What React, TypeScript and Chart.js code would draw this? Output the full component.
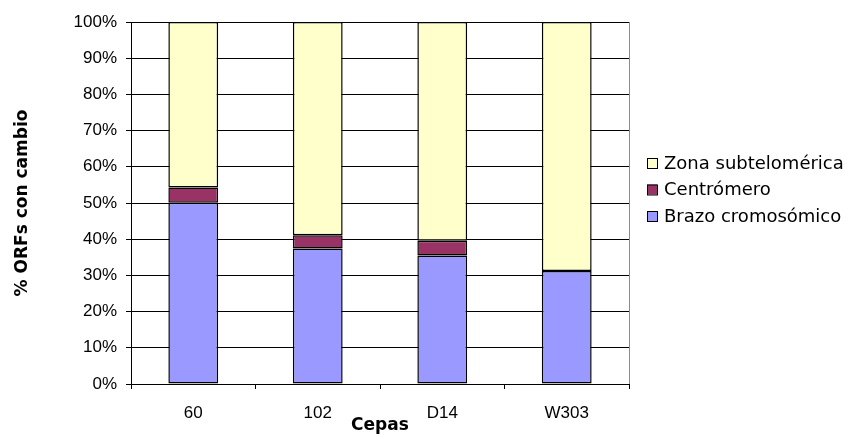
import { useEffect, useRef } from "react";
import { Chart, registerables } from "chart.js";

Chart.register(...registerables);

// Strains on the x axis
const cepas = ["60", "102", "D14", "W303"];

// Share of changed ORFs per genomic region (%)
const brazoCromosomico = [50.1, 37.4, 35.5, 31.2];
const centromero = [4.2, 3.7, 4.1, 0];
const zonaSubtelomerica = [45.7, 58.9, 60.4, 68.8];

const seriesNames = ["Brazo cromosómico", "Centrómero", "Zona subtelomérica"];
const seriesColors = ["#9999FF", "#993366", "#FFFFCC"];

const yTicks = [0, 10, 20, 30, 40, 50, 60, 70, 80, 90, 100];

// Legend drawn to the right of the plot, top entry first
const sideLegend = {
  id: "sideLegend",
  afterDraw(chart: any) {
    const ctx = chart.ctx;
    const datasets = chart.data.datasets;
    const x0 = 647;
    const rows = [163, 189.5, 216];
    ctx.save();
    ctx.font = "18px 'DejaVu Sans'";
    ctx.textBaseline = "middle";
    ctx.textAlign = "left";
    for (let i = 0; i < datasets.length; i++) {
      const ds = datasets[datasets.length - 1 - i];
      const cy = rows[i];
      ctx.fillStyle = ds.backgroundColor;
      ctx.fillRect(x0, cy - 5, 10, 10);
      ctx.strokeStyle = "#000";
      ctx.lineWidth = 1;
      ctx.strokeRect(x0 + 0.5, cy - 4.5, 10, 10);
      ctx.fillStyle = "#000";
      ctx.fillText(ds.label, x0 + 17, cy + 1);
    }
    ctx.restore();
  },
};

// Thin grey frame line on the right side of the plot
const rightBorder = {
  id: "rightBorder",
  afterDatasetsDraw(chart: any) {
    const { ctx, chartArea } = chart;
    ctx.save();
    ctx.strokeStyle = "#8c8c8c";
    ctx.lineWidth = 1;
    ctx.beginPath();
    ctx.moveTo(Math.round(chartArea.right) + 0.5, chartArea.top);
    ctx.lineTo(Math.round(chartArea.right) + 0.5, chartArea.bottom);
    ctx.stroke();
    ctx.restore();
  },
};

export default function App() {
  const canvasRef = useRef<HTMLCanvasElement | null>(null);

  useEffect(() => {
    document.body.style.margin = "0";
    const canvas = canvasRef.current;
    if (!canvas) return;

    const values = [brazoCromosomico, centromero, zonaSubtelomerica];
    const chart = new Chart(canvas, {
      type: "bar",
      data: {
        labels: cepas,
        datasets: values.map((data, i) => ({
          label: seriesNames[i],
          data,
          backgroundColor: seriesColors[i],
          borderColor: "#000000",
          borderWidth: 1.5,
          borderSkipped: false,
          categoryPercentage: 1,
          barPercentage: 0.4,
        })),
      },
      options: {
        responsive: false,
        animation: false,
        layout: { padding: { top: 22, right: 223, left: 0, bottom: 0 } },
        plugins: {
          legend: { display: false },
          tooltip: { enabled: false },
        },
        scales: {
          x: {
            stacked: true,
            offset: true,
            grid: {
              offset: true,
              drawOnChartArea: false,
              drawTicks: true,
              tickLength: 5,
              color: "#000000",
            },
            border: { color: "#000000" },
            ticks: {
              color: "#000000",
              padding: 14,
              font: { family: "'Liberation Sans', Arial", size: 17 },
            },
            title: {
              display: true,
              text: "Cepas",
              color: "#000000",
              font: { family: "'DejaVu Sans'", size: 17, weight: "bold" },
              padding: { top: 0, bottom: 1 },
            },
            afterFit: (scale: any) => {
              scale.height = 53;
            },
          },
          y: {
            stacked: true,
            min: 0,
            max: 100,
            afterBuildTicks: (scale: any) => {
              scale.ticks = yTicks.map((v) => ({ value: v }));
            },
            grid: {
              color: "#000000",
              tickLength: 5,
              drawTicks: true,
            },
            border: { color: "#000000" },
            ticks: {
              color: "#000000",
              padding: 9,
              font: { family: "'Liberation Sans', Arial", size: 17 },
              callback: (v: any) => `${v}%`,
            },
            title: {
              display: true,
              text: "% ORFs con cambio",
              color: "#000000",
              font: { family: "'DejaVu Sans'", size: 17, weight: "bold" },
              padding: { top: 12, bottom: 0 },
            },
            afterFit: (scale: any) => {
              scale.width = 131;
            },
          },
        },
      },
      plugins: [rightBorder, sideLegend],
    });

    return () => chart.destroy();
  }, []);

  return (
    <canvas
      ref={canvasRef}
      width={852}
      height={437}
      style={{ display: "block", width: "852px", height: "437px" }}
    />
  );
}
